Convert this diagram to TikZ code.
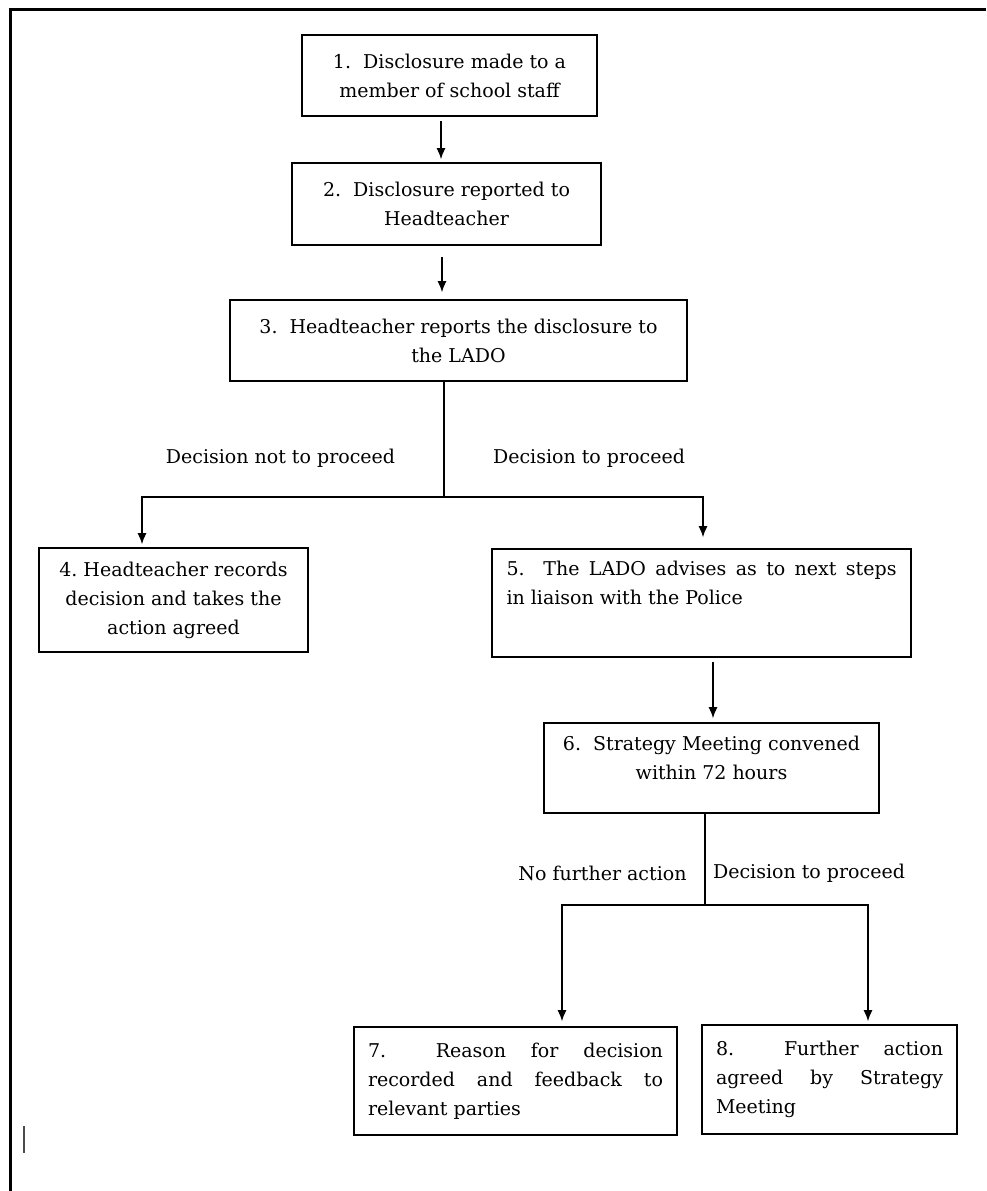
\documentclass[tikz,border=0pt]{standalone}
\usepackage{fontspec}
\setmainfont{DejaVu Serif}
\usepackage{tikz}
\usetikzlibrary{positioning,arrows.meta}
\frenchspacing

\begin{document}
\begin{tikzpicture}[x=1pt, y=-1pt,
  every node/.style={font=\fontsize{19}{29}\selectfont},
  stepbox/.style={rectangle,draw,line width=1.6pt,inner sep=0pt,align=center},
  flatbox/.style={stepbox,align=justify},
  branch/.style={line width=1.4pt},
  flow/.style={branch,-{Latex[length=11pt,width=9pt]}}]
  \useasboundingbox (0,0) rectangle (986,1191);
  \draw[line width=2.6pt] (986,9.5) -- (10.5,9.5) -- (10.5,1191);
  \draw[line width=2pt,black!70] (24,1126) -- (24,1153);

  \node[stepbox,minimum width=295pt,minimum height=81pt] (s1) at (449.5,75.5)
    {1.\ \ Disclosure made to a\\ member of school staff};
  \node[stepbox,minimum width=309pt,minimum height=82pt] (s2) at (446.5,204)
    {2.\ \ Disclosure reported to\\ Headteacher};
  \node[stepbox,minimum width=457pt,minimum height=81pt] (s3) at (458.5,340.5)
    {3.\ \ Headteacher reports the disclosure to\\ the LADO};
  \node[stepbox,minimum width=269pt,minimum height=104pt] (s4) at (173.5,600)
    {4. Headteacher records\\ decision and takes the\\ action agreed};
  \node[flatbox,minimum width=419pt,minimum height=108pt,text width=390pt] (s5) at (701.5,603)
    {5.\hfill\hfill The\hfill LADO\hfill advises\hfill as\hfill to\hfill next\hfill steps\\
     in liaison with the Police\rule[-41pt]{0pt}{41pt}};
  \node[stepbox,minimum width=335pt,minimum height=90pt] (s6) at (711.5,768)
    {6.\ \ Strategy Meeting convened\\ within 72 hours\rule[-21pt]{0pt}{21pt}};
  \node[flatbox,minimum width=323pt,minimum height=108pt,text width=295pt] (s7) at (515.5,1081)
    {7.\hfill\hfill Reason\hfill for\hfill decision\\
     recorded\hfill and\hfill feedback\hfill to\\ relevant parties};
  \node[flatbox,minimum width=255pt,minimum height=109pt,text width=227pt] (s8) at (829.5,1079.5)
    {8.\hfill\hfill Further\hfill action\\
     agreed\hfill by\hfill Strategy\\ Meeting};

  \node (nogo) at (280.5,458) {Decision not to proceed};
  \node (go) at (589,458) {Decision to proceed};
  \node (stop) at (602.5,873) {No further action};
  \node (proceed) at (809,873) {Decision to proceed};

  \coordinate (fork3) at (444,497);
  \coordinate (fork6) at (705,905);

  \draw[flow,shorten <=4pt,shorten >=3pt] ([xshift=-8.5pt]s1.south) -- ([xshift=-8.5pt]s1.south |- s2.north);
  \draw[flow,shorten <=11pt,shorten >=7pt] ([xshift=-4.5pt]s2.south) -- ([xshift=-4.5pt]s2.south |- s3.north);
  \draw[branch] ([xshift=-14.5pt]s3.south) -- (fork3);
  \draw[flow,shorten >=3pt] (fork3) -| ([xshift=-31.5pt]s4.north);
  \draw[flow,shorten >=11pt] (fork3) -| ([xshift=1.5pt]s5.north);
  \draw[flow,shorten <=4pt,shorten >=4pt] ([xshift=11.5pt]s5.south) -- ([xshift=11.5pt]s5.south |- s6.north);
  \draw[branch] ([xshift=-6.5pt]s6.south) -- (fork6);
  \draw[flow,shorten >=5pt] (fork6) -| ([xshift=46.5pt]s7.north);
  \draw[flow,shorten >=3pt] (fork6) -| ([xshift=38.5pt]s8.north);
\end{tikzpicture}
\end{document}
